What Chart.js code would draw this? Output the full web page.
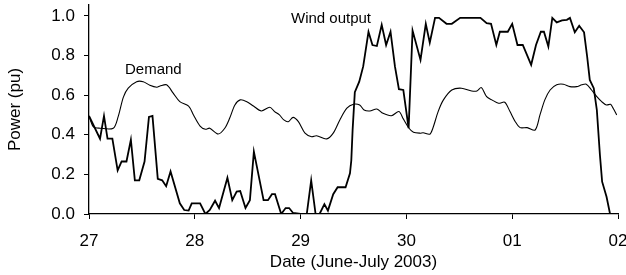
<!DOCTYPE html>
<html>
<head>
<meta charset="utf-8">
<script src="https://cdn.jsdelivr.net/npm/chart.js@4"></script>
<style>
  body { margin: 0; background: #fff; }
</style>
</head>
<body>
<canvas id="powerChart" width="626" height="275"></canvas>
<script>
// Hours since 27 June 00:00, and power in pu
const windHours = [0, 2.5, 3.4, 4.2, 5.3, 6.5, 7.4, 8.5, 9.5, 10.4, 11.4, 12.6, 13.6, 14.4, 15.6, 16.6, 17.5, 18.5, 20.6, 21.6, 22.6, 23.3, 25.2, 26.4, 27.4, 28.6, 29.5, 31.4, 32.5, 33.5, 34.3, 35.5, 36.5, 37.4, 39.6, 40.6, 41.5, 42.2, 43.6, 44.6, 45.4, 46.3, 48, 49.4, 50.4, 51.4, 52.3, 53.4, 54.2, 55.4, 56.4, 58.2, 59.2, 59.5, 59.8, 60.3, 61.3, 62.2, 63.4, 64.3, 65.3, 66.4, 67.4, 68.4, 69.4, 70.3, 71.3, 72.5, 73.4, 75.2, 76.4, 77.3, 78.5, 79.4, 81.1, 82.3, 84.2, 85.7, 88.8, 90.2, 91.2, 92.4, 93.2, 95.0, 96, 97.2, 98.4, 100.3, 101.4, 102.5, 103.2, 104.2, 105.1, 106.1, 107.3, 108.4, 109.1, 110.2, 111.2, 112.3, 113.0, 113.6, 114.5, 115.2, 115.9, 116.4, 117.4, 118.2];
const windPower = [0.495, 0.38, 0.495, 0.38, 0.38, 0.22, 0.265, 0.265, 0.375, 0.17, 0.17, 0.265, 0.49, 0.495, 0.177, 0.17, 0.14, 0.215, 0.054, 0.02, 0.017, 0.054, 0.054, 0.0, 0.02, 0.067, 0.03, 0.183, 0.07, 0.113, 0.116, 0.03, 0.07, 0.315, 0.07, 0.07, 0.1, 0.1, 0.0, 0.03, 0.03, 0.005, 0.0, 0.0, 0.17, 0.0, 0.0, 0.05, 0.017, 0.1, 0.135, 0.135, 0.205, 0.27, 0.425, 0.615, 0.668, 0.745, 0.92, 0.853, 0.848, 0.955, 0.853, 0.92, 0.745, 0.63, 0.626, 0.433, 0.926, 0.778, 0.96, 0.865, 0.99, 0.99, 0.96, 0.96, 0.99, 0.99, 0.99, 0.963, 0.96, 0.853, 0.92, 0.92, 0.96, 0.853, 0.853, 0.753, 0.853, 0.92, 0.92, 0.845, 0.99, 0.967, 0.977, 0.98, 0.99, 0.917, 0.95, 0.917, 0.795, 0.677, 0.635, 0.525, 0.298, 0.163, 0.087, 0.0];

const demandHours = [0, 1.0, 2.5, 5.5, 6.6, 7.8, 8.9, 10.8, 12.3, 13.8, 15.4, 16.1, 17.6, 19.1, 20.6, 22.6, 23.7, 25.2, 26.4, 27.4, 29.3, 30.8, 31.9, 33.1, 34.3, 35.8, 37.3, 39.1, 41.0, 42.1, 43.2, 44.2, 45.2, 46.3, 47.5, 49.0, 50.5, 51.6, 53.9, 55.4, 56.9, 58.5, 60, 61.4, 62.4, 63.7, 65.3, 66.7, 68.6, 70.3, 71.3, 72.6, 73.6, 75.1, 75.8, 77.3, 78, 79.2, 80.4, 82.3, 84.5, 86.8, 88, 89.0, 90.2, 91.4, 92.9, 94.3, 95.5, 96.7, 97.8, 99.4, 101.2, 102.3, 103.4, 104.6, 106.1, 107.6, 109.1, 110.6, 111.8, 112.8, 114.0, 115.2, 116.3, 117.4, 118.3, 118.9, 119.7];
const demandPower = [0.495, 0.44, 0.433, 0.433, 0.49, 0.59, 0.635, 0.668, 0.668, 0.65, 0.64, 0.646, 0.652, 0.61, 0.567, 0.545, 0.5, 0.444, 0.428, 0.433, 0.404, 0.433, 0.483, 0.55, 0.576, 0.567, 0.545, 0.52, 0.539, 0.517, 0.5, 0.475, 0.466, 0.488, 0.466, 0.408, 0.39, 0.395, 0.379, 0.408, 0.475, 0.534, 0.554, 0.55, 0.525, 0.52, 0.53, 0.508, 0.496, 0.517, 0.48, 0.433, 0.413, 0.408, 0.41, 0.403, 0.433, 0.517, 0.576, 0.626, 0.635, 0.621, 0.621, 0.638, 0.592, 0.576, 0.559, 0.564, 0.517, 0.466, 0.436, 0.436, 0.424, 0.5, 0.576, 0.626, 0.652, 0.655, 0.643, 0.643, 0.652, 0.655, 0.626, 0.592, 0.567, 0.55, 0.554, 0.534, 0.5];

const dayTicks = [0, 24, 48, 72, 96, 120];
const dayLabels = ['27', '28', '29', '30', '01', '02'];
const powerTicks = [0, 0.2, 0.4, 0.6, 0.8, 1.0];

// Series labels placed in data coordinates
const seriesLabels = [
    { text: 'Demand', hour: 14.6, value: 0.727 },
    { text: 'Wind output', hour: 54.9, value: 0.985 }
];

const FONT = '"Liberation Sans", Arial, sans-serif';

function toPoints(xs, ys) {
    return xs.map((x, i) => ({ x: x, y: ys[i] }));
}

const labelPlugin = {
    id: 'seriesLabels',
    afterDatasetsDraw(chart) {
        const ctx = chart.ctx;
        const xs = chart.scales.x, ys = chart.scales.y;
        ctx.save();
        ctx.font = '15px ' + FONT;
        ctx.fillStyle = '#000';
        ctx.textAlign = 'center';
        ctx.textBaseline = 'middle';
        seriesLabels.forEach(l => {
            ctx.fillText(l.text, xs.getPixelForValue(l.hour), ys.getPixelForValue(l.value));
        });
        ctx.restore();
    }
};

const ctx = document.getElementById('powerChart').getContext('2d');
new Chart(ctx, {
    type: 'line',
    data: {
        datasets: [{
            label: 'Wind output',
            data: toPoints(windHours, windPower),
            borderColor: '#000',
            borderWidth: 1.8,
            pointRadius: 0,
            tension: 0
        }, {
            label: 'Demand',
            data: toPoints(demandHours, demandPower),
            borderColor: '#000',
            borderWidth: 1.1,
            pointRadius: 0,
            tension: 0.3
        }]
    },
    options: {
        responsive: false,
        animation: false,
        layout: { padding: { left: 0, right: 8, top: 5, bottom: 0 } },
        plugins: {
            legend: { display: false },
            tooltip: { enabled: false }
        },
        scales: {
            x: {
                type: 'linear',
                min: 0,
                max: 120,
                afterBuildTicks: axis => { axis.ticks = dayTicks.map(v => ({ value: v })); },
                afterFit: scale => {
                    scale.height = 61;
                    scale.paddingLeft = 0;
                    scale.paddingRight = 0;
                },
                ticks: {
                    color: '#000',
                    font: { family: FONT, size: 17 },
                    padding: 12,
                    maxRotation: 0,
                    callback: value => dayLabels[dayTicks.indexOf(value)]
                },
                grid: { drawOnChartArea: false, color: '#000', tickLength: 5 },
                border: { color: '#000', width: 1.3 },
                title: {
                    display: true,
                    text: 'Date (June-July 2003)',
                    color: '#000',
                    font: { family: FONT, size: 17 },
                    padding: { top: 0, bottom: 2 }
                }
            },
            y: {
                min: 0,
                max: 1.055,
                afterBuildTicks: axis => { axis.ticks = powerTicks.map(v => ({ value: v })); },
                afterFit: scale => {
                    scale.width = 89;
                    scale.paddingTop = 0;
                    scale.paddingBottom = 0;
                },
                ticks: {
                    color: '#000',
                    font: { family: FONT, size: 17 },
                    padding: 9,
                    callback: value => value.toFixed(1)
                },
                grid: { drawOnChartArea: false, color: '#000', tickLength: 5 },
                border: { color: '#000', width: 1.3 },
                title: {
                    display: true,
                    text: 'Power (pu)',
                    color: '#000',
                    font: { family: FONT, size: 17 },
                    padding: { top: 5, bottom: 0 }
                }
            }
        }
    },
    plugins: [labelPlugin]
});
</script>
</body>
</html>
